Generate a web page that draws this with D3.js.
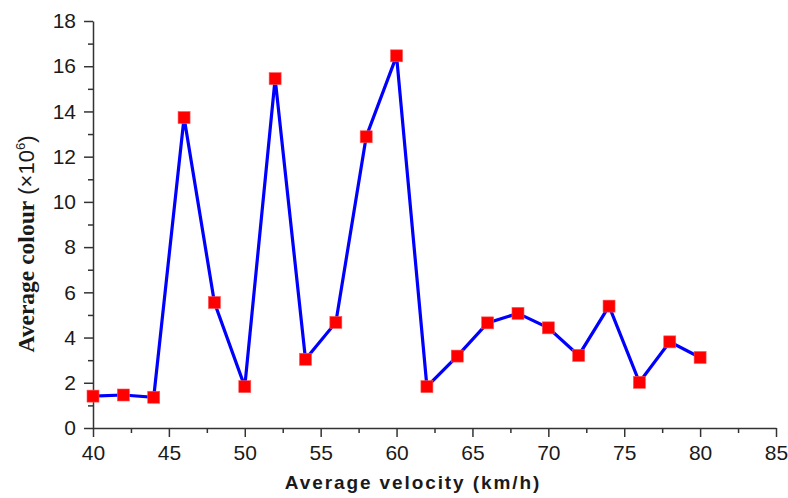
<!DOCTYPE html>
<html>
<head>
<meta charset="utf-8">
<script src="https://cdn.jsdelivr.net/npm/d3@7"></script>
<style>
  body { margin: 0; background: #fff; }
  text { fill: #1a1a1a; }
</style>
</head>
<body>
<div id="viz"></div>
<script>
// velocity (km/h) and average colour (x10^6)
var velocity = [40, 42, 44, 46, 48, 50, 52, 54, 56, 58, 60, 62, 64, 66, 68, 70, 72, 74, 76, 78, 80];
var colour = [1.41, 1.46, 1.36, 13.73, 5.55, 1.83, 15.45, 3.04, 4.67, 12.88, 16.46, 1.83, 3.18, 4.65, 5.07, 4.43, 3.21, 5.39, 2.02, 3.81, 3.12];
var xTicks = [40, 45, 50, 55, 60, 65, 70, 75, 80, 85];
var yTicks = [0, 2, 4, 6, 8, 10, 12, 14, 16, 18];

var data = velocity.map(function(v, i) { return {x: v, y: colour[i]}; });

var W = 788, H = 498;
var svg = d3.select("#viz").append("svg")
    .attr("width", W)
    .attr("height", H);

var x = d3.scaleLinear().domain([40, 85]).range([93, 776]);
var y = d3.scaleLinear().domain([0, 18]).range([428, 21]);

// minor ticks (halfway between majors)
var xMinor = d3.range(42.5, 85, 5);
var yMinor = d3.range(1, 18, 2);

svg.append("g")
    .attr("transform", "translate(0," + y(0) + ")")
    .call(d3.axisBottom(x).tickValues(xTicks).tickSize(9).tickPadding(8).tickSizeOuter(0));
svg.append("g")
    .attr("transform", "translate(0," + y(0) + ")")
    .call(d3.axisBottom(x).tickValues(xMinor).tickSize(5).tickFormat("").tickSizeOuter(0))
    .select(".domain").remove();

svg.append("g")
    .attr("transform", "translate(" + x(40) + ",0)")
    .call(d3.axisLeft(y).tickValues(yTicks).tickSize(9).tickPadding(8).tickSizeOuter(0));
svg.append("g")
    .attr("transform", "translate(" + x(40) + ",0)")
    .call(d3.axisLeft(y).tickValues(yMinor).tickSize(5).tickFormat("").tickSizeOuter(0))
    .select(".domain").remove();

svg.selectAll(".domain, .tick line")
    .attr("stroke", "#333")
    .attr("stroke-width", 1.5);
svg.selectAll(".tick text")
    .style("font-family", "'Liberation Sans', Arial, sans-serif")
    .style("font-size", "21px")
    .attr("fill", "#1a1a1a");

// line
var line = d3.line()
    .x(function(d) { return x(d.x); })
    .y(function(d) { return y(d.y); });

svg.append("path")
    .datum(data)
    .attr("d", line)
    .attr("fill", "none")
    .attr("stroke", "#0000ff")
    .attr("stroke-width", 3.2)
    .attr("stroke-linejoin", "miter");

// square markers
var s = 12;
svg.selectAll("rect.pt")
    .data(data)
    .enter()
    .append("rect")
    .attr("class", "pt")
    .attr("x", function(d) { return x(d.x) - s / 2; })
    .attr("y", function(d) { return y(d.y) - s / 2; })
    .attr("width", s)
    .attr("height", s)
    .attr("fill", "#ff0000")
    .attr("stroke", "#ff5555")
    .attr("stroke-width", 0.6);

// axis titles
svg.append("text")
    .attr("x", 413)
    .attr("y", 489)
    .attr("text-anchor", "middle")
    .style("font-family", "'Liberation Sans', Arial, sans-serif")
    .style("font-weight", "bold")
    .style("font-size", "19px")
    .style("letter-spacing", "1.9px")
    .text("Average velocity (km/h)");

var yt = svg.append("text")
    .attr("transform", "translate(34,244) rotate(-90)")
    .attr("text-anchor", "middle");
yt.append("tspan")
    .style("font-family", "'Liberation Serif', 'Times New Roman', serif")
    .style("font-weight", "bold")
    .style("font-size", "23.5px")
    .text("Average colour");
yt.append("tspan")
    .style("font-family", "'Liberation Sans', Arial, sans-serif")
    .style("font-size", "22px")
    .text(" (\u00D710");
yt.append("tspan")
    .attr("dy", -9)
    .style("font-family", "'Liberation Sans', Arial, sans-serif")
    .style("font-size", "13px")
    .text("6");
yt.append("tspan")
    .attr("dy", 9)
    .style("font-family", "'Liberation Sans', Arial, sans-serif")
    .style("font-size", "22px")
    .text(")");
</script>
</body>
</html>
